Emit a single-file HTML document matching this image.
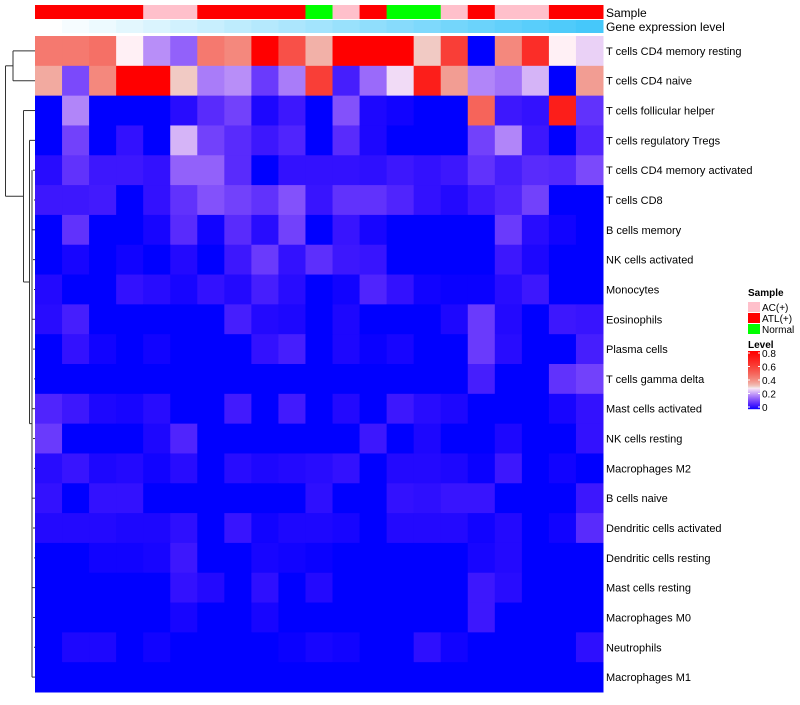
<!DOCTYPE html>
<html><head><meta charset="utf-8"><style>
body{margin:0;background:#fff;font-family:"Liberation Sans",sans-serif}
svg text{font-family:"Liberation Sans",sans-serif}
</style></head><body>
<svg id="chart" width="800" height="700" xmlns="http://www.w3.org/2000/svg"></svg>
<script>
const rowLabels=["T cells CD4 memory resting","T cells CD4 naive","T cells follicular helper","T cells regulatory  Tregs","T cells CD4 memory activated","T cells CD8","B cells memory","NK cells activated","Monocytes","Eosinophils","Plasma cells","T cells gamma delta","Mast cells activated","NK cells resting","Macrophages M2","B cells naive","Dendritic cells activated","Dendritic cells resting","Mast cells resting","Macrophages M0","Neutrophils","Macrophages M1"];
const sampleGroups=["ATL(+)","ATL(+)","ATL(+)","ATL(+)","AC(+)","AC(+)","ATL(+)","ATL(+)","ATL(+)","ATL(+)","Normal","AC(+)","ATL(+)","Normal","Normal","AC(+)","ATL(+)","AC(+)","AC(+)","ATL(+)","ATL(+)"];
const geneLevel=[0,1,2,3,4,5,6,7,8,9,10,11,12,13,14,15,16,17,18,19,20];
const values=[
[0.45,0.45,0.47,0.3,0.2,0.15,0.45,0.42,0.8,0.55,0.35,0.8,0.8,0.8,0.32,0.6,0,0.42,0.65,0.3,0.27],
[0.36,0.12,0.42,0.8,0.8,0.32,0.18,0.2,0.1,0.18,0.6,0.06,0.16,0.28,0.7,0.38,0.19,0.17,0.24,0,0.38],
[0,0.19,0,0,0,0.03,0.08,0.11,0.02,0.05,0,0.13,0.02,0.01,0,0,0.5,0.05,0.04,0.7,0.09],
[0,0.11,0,0.04,0,0.24,0.11,0.08,0.05,0.07,0,0.08,0.02,0,0,0,0.11,0.19,0.05,0,0.07],
[0.03,0.09,0.05,0.05,0.04,0.15,0.15,0.08,0,0.04,0.04,0.04,0.035,0.05,0.04,0.05,0.09,0.06,0.08,0.075,0.12],
[0.05,0.05,0.055,0,0.04,0.09,0.13,0.11,0.09,0.13,0.045,0.09,0.09,0.07,0.04,0.025,0.05,0.07,0.11,0,0],
[0,0.09,0,0,0.015,0.08,0.01,0.08,0.03,0.11,0,0.045,0.015,0,0,0,0,0.1,0.03,0.01,0],
[0,0.015,0,0.01,0,0.025,0,0.05,0.1,0.04,0.085,0.05,0.045,0,0,0,0,0.05,0.02,0,0],
[0.025,0,0,0.04,0.03,0.015,0.04,0.025,0.06,0.03,0,0.01,0.07,0.04,0.01,0.005,0.005,0.03,0.05,0,0],
[0.03,0.06,0,0,0,0,0,0.06,0.025,0.02,0,0.02,0,0,0,0.02,0.1,0.025,0,0.05,0.045],
[0,0.04,0.01,0,0.01,0,0,0,0.04,0.06,0,0.02,0.005,0.015,0,0,0.1,0.03,0,0,0.06],
[0,0,0,0,0,0,0,0,0,0,0,0,0,0,0,0,0.06,0,0,0.09,0.11],
[0.07,0.05,0.02,0.015,0.03,0,0,0.055,0,0.055,0,0.025,0,0.05,0.03,0.02,0,0,0,0.015,0.04],
[0.1,0,0,0,0.02,0.07,0,0,0,0,0,0,0.05,0,0.02,0,0,0.02,0,0,0.04],
[0.03,0.045,0.02,0.025,0.01,0.03,0,0.03,0.02,0.025,0.03,0.04,0,0.025,0.025,0.02,0.005,0.05,0,0.01,0],
[0.04,0,0.04,0.04,0,0,0,0,0,0,0.035,0,0,0.04,0.035,0.045,0.045,0,0,0,0.05],
[0.025,0.025,0.025,0.02,0.02,0.035,0,0.045,0.01,0.02,0.02,0.015,0,0.025,0.025,0.025,0.01,0.025,0,0.01,0.08],
[0,0,0.01,0.01,0.015,0.05,0,0,0.015,0.01,0.005,0,0,0,0,0,0.015,0.025,0,0,0],
[0,0,0,0,0,0.04,0.025,0,0.035,0,0.025,0,0,0,0,0,0.05,0.03,0,0,0],
[0,0,0,0,0,0.015,0,0,0.015,0,0,0,0,0,0,0,0.05,0,0,0,0],
[0,0.02,0.02,0,0.01,0,0,0,0,0.005,0.015,0.01,0,0,0.035,0.01,0,0,0,0,0.035],
[0,0,0,0,0,0,0,0,0,0,0,0,0,0,0,0,0,0,0,0,0]];
const legendTicks=[0,0.2,0.4,0.6,0.8];
const groupColors={"AC(+)":"#FFC0CB","ATL(+)":"#FF0000","Normal":"#00FF00"};

const svg=document.getElementById('chart');
const NS="http://www.w3.org/2000/svg";
const X0=35,X1=603,Y0=36,Y1=692;
const nC=geneLevel.length,nR=rowLabels.length;
const cw=(X1-X0)/nC,rh=(Y1-Y0)/nR;
const xPos=i=>X0+i*cw, yPos=r=>Y0+r*rh;
function color(v){
  let r,g,b;
  if(v<=0.3){const s=Math.max(0,v/0.3);r=255*Math.pow(s,0.8);g=240*Math.pow(s,1.3);b=255-10*s;}
  else{const s=Math.min(1,(v-0.3)/0.5);r=240+15*s;g=236*(1-Math.pow(s,0.6));b=245*(1-Math.pow(s,0.5));}
  return `rgb(${Math.round(r)},${Math.round(g)},${Math.round(b)})`;
}
function geneColor(t){const s=t/20;return `rgb(${Math.round(255-185*s)},${Math.round(255-55*s)},${Math.round(255-5*s)})`;}
function el(tag,attrs,parent){const e=document.createElementNS(NS,tag);for(const k in attrs)e.setAttribute(k,attrs[k]);(parent||svg).appendChild(e);return e;}

const ann=el('g',{});


sampleGroups.forEach((g,i)=>{
  const r=el('rect',{x:xPos(i),y:5,width:cw+0.5,height:14,fill:groupColors[g]},ann);
  
  
});
geneLevel.forEach((t,i)=>{
  const r=el('rect',{x:xPos(i),y:20,width:cw+0.5,height:13,fill:geneColor(t)},ann);
  
  
});
let tx0=el('text',{x:606,y:17,'font-size':12},ann);tx0.textContent='Sample';


tx0=el('text',{x:606,y:31,'font-size':12},ann);tx0.textContent='Gene expression level';



const cellsG=el('g',{});


values.forEach((row,r)=>row.forEach((v,c)=>{
  const e=el('rect',{x:xPos(c),y:yPos(r),width:cw+0.5,height:rh+0.5,fill:color(v)},cellsG);
  
  
}));
const labsG=el('g',{});


rowLabels.forEach((l,r)=>{
  const e=el('text',{x:606,y:yPos(r)+rh/2+4,'font-size':11},labsG);e.textContent=l;
  
  
});

// dendrogram
const dg=el('g',{stroke:'#333','stroke-width':1,fill:'none'});


const cy=r=>yPos(r)+rh/2;
function seg(x1,y1,x2,y2){el('line',{x1,y1,x2,y2},dg);}
seg(13,cy(0),35,cy(0));seg(13,cy(1),35,cy(1));seg(13,cy(0),13,cy(1));
const dTop=(cy(0)+cy(1))/2;
seg(5.5,dTop,13,dTop);
seg(23.5,cy(2),35,cy(2));
seg(29.5,cy(3),35,cy(3));
const restMid=(cy(4)+cy(21))/2;
seg(29.5,cy(3),29.5,restMid);seg(29.5,restMid,32,restMid);
seg(32,cy(4),32,cy(21));
for(let r=4;r<22;r++){seg(32+(r%3),cy(r),35,cy(r));}
const subMid=(cy(3)+restMid)/2;
seg(23.5,cy(2),23.5,subMid);
seg(23.5,subMid,29.5,subMid);
const dBot=(cy(2)+subMid)/2;
seg(5.5,dTop,5.5,dBot);seg(5.5,dBot,23.5,dBot);

// legend
const lg=el('g',{});


let lt=el('text',{x:748,y:296,'font-size':10,'font-weight':'bold'},lg);lt.textContent='Sample';
["AC(+)","ATL(+)","Normal"].forEach((g,i)=>{
  const r=el('rect',{x:748,y:302+i*11,width:12,height:10,fill:groupColors[g]},lg);
  
  
  const tx=el('text',{x:762,y:311+i*11,'font-size':10},lg);tx.textContent=g;
  
  
});
lt=el('text',{x:748,y:348,'font-size':10,'font-weight':'bold'},lg);lt.textContent='Level';
const gy0=351,gy1=409;
for(let i=0;i<58;i++){
  const v=0.8-(i/58)*0.8;
  el('rect',{x:748,y:gy0+i,width:12,height:1.2,fill:color(v)},lg);
}
legendTicks.forEach(v=>{
  const y=gy1-(v/0.8)*(gy1-gy0-4)-2;
  el('line',{x1:748,x2:750,y1:y,y2:y,stroke:'#fff'},lg);
  el('line',{x1:758,x2:760,y1:y,y2:y,stroke:'#fff'},lg);
  const tx=el('text',{x:762,y:y+4,'font-size':10},lg);tx.textContent=String(v);
  
  
});
</script>
</body></html>
